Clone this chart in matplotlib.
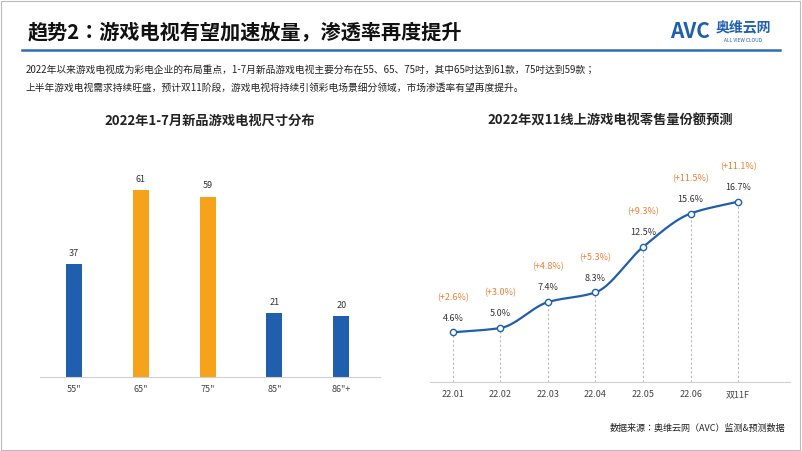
import matplotlib
matplotlib.use("Agg")
import matplotlib.pyplot as plt
from matplotlib import font_manager
import numpy as np

avail = {f.name for f in font_manager.fontManager.ttflist}
cands = [n for n in ["Noto Sans CJK SC", "Noto Sans CJK JP", "Noto Sans CJK TC", "Noto Sans CJK KR"] if n in avail]
plt.rcParams["font.family"] = (cands[:1] or []) + ["DejaVu Sans"]

bar_cats = ['55"', '65"', '75"', '85"', '86"+']
bar_vals = [37, 61, 59, 21, 20]
bar_colors = ["#1F5FAD", "#F7A21B", "#F7A21B", "#1F5FAD", "#1F5FAD"]

line_cats = ["22.01", "22.02", "22.03", "22.04", "22.05", "22.06", "双11F"]
line_vals = [4.6, 5.0, 7.4, 8.3, 12.5, 15.6, 16.7]
line_chg = ["(+2.6%)", "(+3.0%)", "(+4.8%)", "(+5.3%)", "(+9.3%)", "(+11.5%)", "(+11.1%)"]

W, H = 802, 451
fig = plt.figure(figsize=(W/100, H/100), dpi=100)

def fx(x): return x / W
def fy(y): return 1 - y / H

fig.add_artist(plt.Rectangle((0.001, 0.002), 0.997, 0.996, transform=fig.transFigure,
                             fill=False, ec="#BBBBBB", lw=0.8))
fig.text(fx(28), fy(33), "趋势2：游戏电视有望加速放量，渗透率再度提升", fontsize=14.5,
         fontweight="bold", va="center", ha="left", color="#111111")
fig.add_artist(plt.Line2D([fx(22), fx(780)], [fy(50), fy(50)], transform=fig.transFigure,
                          color="#2E6DB4", lw=1.8))
fig.text(fx(690), fy(31), "AVC", fontsize=15, fontweight="bold", style="italic",
         color="#1F5FAD", va="center", ha="center")
fig.text(fx(743), fy(27), "奥维云网", fontsize=10, fontweight="bold", color="#1F5FAD",
         va="center", ha="center")
fig.text(fx(743), fy(40), "ALL VIEW CLOUD", fontsize=3.5, color="#1F5FAD",
         va="center", ha="center")
fig.text(fx(26), fy(70), "2022年以来游戏电视成为彩电企业的布局重点，1-7月新品游戏电视主要分布在55、65、75吋，其中65吋达到61款，75吋达到59款；",
         fontsize=7.0, va="center", ha="left", color="#222222")
fig.text(fx(26), fy(88), "上半年游戏电视需求持续旺盛，预计双11阶段，游戏电视将持续引领彩电场景细分领域，市场渗透率有望再度提升。",
         fontsize=7.0, va="center", ha="left", color="#222222")
fig.text(fx(210), fy(121), "2022年1-7月新品游戏电视尺寸分布", fontsize=9.5, fontweight="bold",
         ha="center", va="center", color="#222222")
fig.text(fx(610), fy(121), "2022年双11线上游戏电视零售量份额预测", fontsize=9.5, fontweight="bold",
         ha="center", va="center", color="#222222")
fig.text(fx(785), fy(428), "数据来源：奥维云网（AVC）监测&预测数据", fontsize=6.5,
         ha="right", va="center", color="#222222")

ax1 = fig.add_axes([fx(40), fy(377), fx(340), (377-169)/H])
x = np.arange(len(bar_cats))
ax1.bar(x, bar_vals, width=0.24, color=bar_colors)
for xi, v in zip(x, bar_vals):
    ax1.text(xi, v + 2, str(v), ha="center", va="bottom", fontsize=6.5, color="#333333")
ax1.set_xlim(-0.51, 4.58)
ax1.set_ylim(0, 68)
ax1.set_xticks(x, bar_cats, fontsize=6.5, color="#444444")
ax1.tick_params(axis="x", length=0, pad=6)
ax1.set_yticks([])
for s in ["top", "right", "left"]:
    ax1.spines[s].set_visible(False)
ax1.spines["bottom"].set_color("#D0D0D0")
ax1.patch.set_alpha(0)

def pchip(xs, ys, n=40):
    xs = np.asarray(xs, float); ys = np.asarray(ys, float)
    h = np.diff(xs); d = np.diff(ys) / h
    m = np.zeros_like(ys)
    for i in range(1, len(ys)-1):
        if d[i-1]*d[i] > 0:
            m[i] = 2/(1/d[i-1] + 1/d[i])
    m[0] = d[0]; m[-1] = d[-1]
    X, Y = [], []
    for i in range(len(h)):
        t = np.linspace(0, 1, n)
        h00 = 2*t**3-3*t**2+1; h10 = t**3-2*t**2+t; h01 = -2*t**3+3*t**2; h11 = t**3-t**2
        X.append(xs[i] + t*h[i])
        Y.append(h00*ys[i] + h10*h[i]*m[i] + h01*ys[i+1] + h11*h[i]*m[i+1])
    return np.concatenate(X), np.concatenate(Y)

ax2 = fig.add_axes([fx(430), fy(382), fx(360), 216/H])
lx = np.arange(len(line_cats))
sx, sy = pchip(lx, line_vals)
ax2.plot(sx, sy, color="#1F5FAD", lw=1.6, zorder=3)
ax2.plot(lx, line_vals, "o", ms=4.5, mfc="white", mec="#1F5FAD", mew=1, zorder=4)
ax2.vlines(lx, 0, line_vals, colors="#BBBBBB", linestyles=(0, (2, 2)), lw=0.8, zorder=1)
for xi, v, c in zip(lx, line_vals, line_chg):
    ax2.annotate(f"{v:.1f}%", (xi, v), xytext=(0, 7), textcoords="offset points",
                 ha="center", va="bottom", fontsize=6.5, color="#333333")
    ax2.annotate(c, (xi, v), xytext=(0, 22), textcoords="offset points",
                 ha="center", va="bottom", fontsize=6.5, color="#ED7D31")
ax2.set_xlim(-0.48, 7.09)
ax2.set_ylim(0, 20)
ax2.set_xticks(lx, line_cats, fontsize=6.5, color="#444444")
ax2.tick_params(axis="x", length=0, pad=6)
ax2.set_yticks([])
for s in ["top", "right", "left"]:
    ax2.spines[s].set_visible(False)
ax2.spines["bottom"].set_color("#D0D0D0")
ax2.patch.set_alpha(0)

fig.savefig("out.png", dpi=100)
